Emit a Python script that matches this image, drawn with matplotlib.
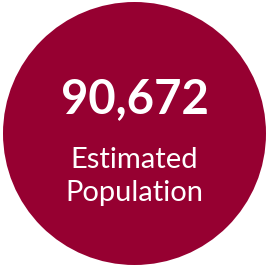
import matplotlib
matplotlib.use("Agg")
import matplotlib.pyplot as plt
from matplotlib.patches import Circle

value_text = "90,672"
label_lines = ["Estimated", "Population"]

W, H = 266, 265
fig = plt.figure(figsize=(W / 100, H / 100), dpi=100)
ax = fig.add_axes([0, 0, 1, 1])
ax.set_xlim(0, W)
ax.set_ylim(H, 0)
ax.axis("off")

ax.add_patch(Circle((134.5, 133.5), 131.5, color="#960031", lw=0))

ax.text(134.5, 113, value_text, ha="center", va="baseline", color="white",
        fontsize=34, fontweight="bold", family="Lato")
ax.text(134.5, 168.5, label_lines[0], ha="center", va="baseline", color="white",
        fontsize=21, fontweight="normal", family="Lato")
ax.text(134.5, 201.5, label_lines[1], ha="center", va="baseline", color="white",
        fontsize=21, fontweight="normal", family="Lato")

fig.savefig("out.png", dpi=100, facecolor="white")
